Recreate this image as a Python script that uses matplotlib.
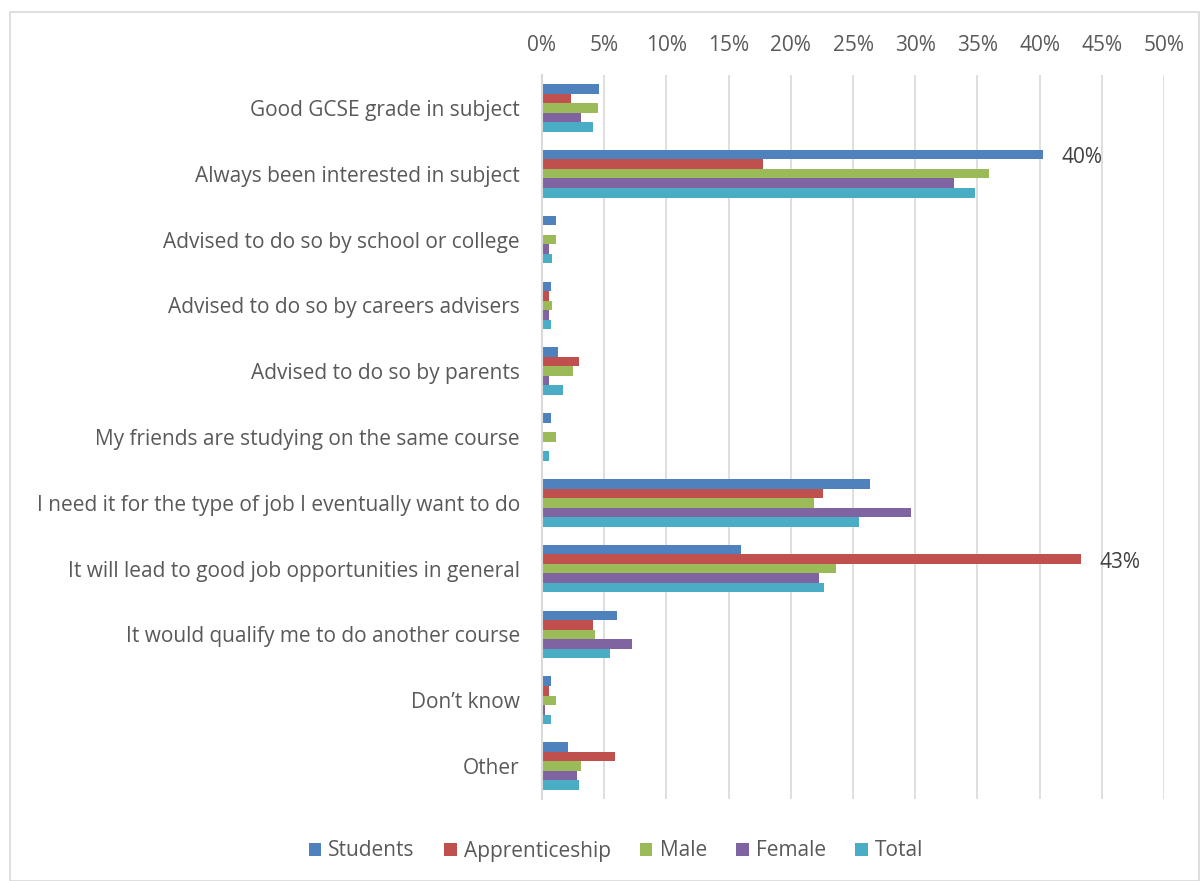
import matplotlib
matplotlib.use("Agg")
import matplotlib.pyplot as plt
import numpy as np
from matplotlib.ticker import FuncFormatter, MultipleLocator
from matplotlib.patches import Rectangle

categories = [
    "Good GCSE grade in subject",
    "Always been interested in subject",
    "Advised to do so by school or college",
    "Advised to do so by careers advisers",
    "Advised to do so by parents",
    "My friends are studying on the same course",
    "I need it for the type of job I eventually want to do",
    "It will lead to good job opportunities in general",
    "It would qualify me to do another course",
    "Don\u2019t know",
    "Other",
]
series_names = ["Students", "Apprenticeship", "Male", "Female", "Total"]
students = [4.6, 40.3, 1.1, 0.75, 1.3, 0.75, 26.4, 16.0, 6.0, 0.75, 2.1]
apprenticeship = [2.3, 17.8, 0.0, 0.55, 3.0, 0.0, 22.6, 43.3, 4.1, 0.55, 5.9]
male = [4.5, 35.9, 1.1, 0.8, 2.5, 1.1, 21.9, 23.6, 4.25, 1.1, 3.1]
female = [3.1, 33.1, 0.6, 0.55, 0.55, 0.0, 29.7, 22.3, 7.2, 0.27, 2.8]
total = [4.1, 34.8, 0.8, 0.7, 1.7, 0.55, 25.5, 22.7, 5.5, 0.7, 3.0]
colors = ["#4f81bd", "#c0504d", "#9bbb59", "#8064a2", "#4bacc6"]
annotations = [(0, 1, "40%"), (1, 7, "43%")]  # (series index, category index, text)

plt.rcParams['font.family'] = ['Open Sans', 'DejaVu Sans']
text_color = "#595959"
fs = 15

fig = plt.figure(figsize=(12, 8.81), dpi=100)
ax = fig.add_axes([542/1200, 1-799/881, (1164-542)/1200, (799-75)/881])

data = [students, apprenticeship, male, female, total]
n = len(categories)
y = np.arange(n)
h = 0.145
for i, (vals, c, name) in enumerate(zip(data, colors, series_names)):
    ax.barh(y + (i - 2) * h, vals, height=h, color=c, label=name, zorder=3)

for si, ci, txt in annotations:
    ax.text(data[si][ci] + 1.5, y[ci] + (si - 2) * h + 0.05, txt, va="center", ha="left",
            fontsize=fs, color="#404040")

ax.set_xlim(0, 50)
ax.set_ylim(n - 0.5, -0.5)
ax.xaxis.set_major_locator(MultipleLocator(5))
ax.xaxis.set_major_formatter(FuncFormatter(lambda v, p: f"{int(round(v))}%"))
ax.xaxis.tick_top()
ax.tick_params(axis="x", length=0, labelsize=fs, labelcolor=text_color, pad=14)
ax.set_yticks(y)
ax.set_yticklabels(categories)
ax.tick_params(axis="y", length=0, labelsize=fs, labelcolor=text_color, pad=16)
ax.grid(axis="x", color="#d9d9d9", linewidth=1.2, zorder=0)
for s in ["top", "right", "bottom"]:
    ax.spines[s].set_visible(False)
ax.spines["left"].set_color("#d9d9d9")
ax.spines["left"].set_linewidth(1.5)
ax.spines["left"].set_zorder(4)

fig.patches.append(Rectangle((10/1200, 0), 1 - 10/1200 - 0.001, 1 - 12/881, transform=fig.transFigure,
                             fill=False, edgecolor="#d9d9d9", linewidth=1.2))

handles, labels = ax.get_legend_handles_labels()
leg = fig.legend(handles, labels, loc="center", bbox_to_anchor=(616/1200, 1 - 851/881), ncol=5,
                 frameon=False, fontsize=fs, handlelength=0.6, handleheight=0.6,
                 handletextpad=0.35, columnspacing=1.4)
for t in leg.get_texts():
    t.set_color(text_color)

fig.savefig("out.png", dpi=100)
